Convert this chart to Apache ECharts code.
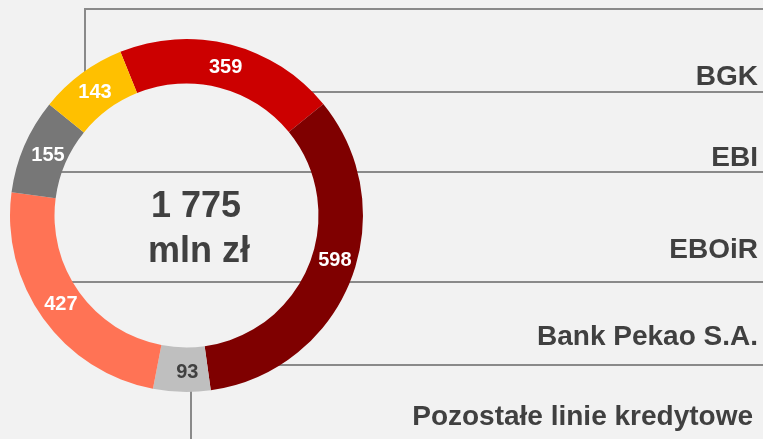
<!DOCTYPE html>
<html>
<head>
<meta charset="utf-8">
<script src="https://cdn.jsdelivr.net/npm/echarts@6/dist/echarts.min.js"></script>
<style>
  html, body { margin: 0; padding: 0; background: #f2f2f2; }
  #box { width: 763px; height: 439px; }
</style>
</head>
<body>
<div id="box"></div>
<script>
// dane
var names = ['BGK', 'Bank Pekao S.A.', 'Pozostałe linie kredytowe', 'EBOiR', 'EBI', 'PKO BP'];
var values = [359, 598, 93, 427, 155, 143];
var colors = ['#cc0000', '#7f0000', '#bfbfbf', '#ff7355', '#777777', '#ffc000'];
var labelColors = ['#ffffff', '#ffffff', '#404040', '#ffffff', '#ffffff', '#ffffff'];
var totalText = ['1 775', 'mln zł'];

var font = 'Liberation Sans, Arial, sans-serif';
var lineColor = '#8a8a8a';
// drobne przesunięcia etykiet jak w oryginale
var labelShift = [[0, 4], [2, -13], [5, 0], [2, -3], [6, 2], [2, 3]];

var pieData = [];
for (var i = 0; i < values.length; i++) {
  pieData.push({
    name: names[i],
    value: values[i],
    itemStyle: { color: colors[i] },
    label: { color: labelColors[i], offset: labelShift[i] }
  });
}

// linie odniesienia i podpisy po prawej
function hLine(y, x1) {
  return { type: 'line', z: 0, shape: { x1: x1, y1: y, x2: 763, y2: y }, style: { stroke: lineColor, lineWidth: 2 } };
}
function rightText(txt, y, x) {
  return { type: 'text', z: 10, x: x || 758, y: y,
    style: { text: txt, fill: '#404040', font: 'bold 28px ' + font, textAlign: 'right', textVerticalAlign: 'middle' } };
}

var graphics = [
  { type: 'polyline', z: 0, shape: { points: [[85, 90], [85, 9], [763, 9]] }, style: { stroke: lineColor, lineWidth: 2, fill: null } },
  hLine(92, 290),
  hLine(172, 40),
  hLine(282, 40),
  hLine(365, 260),
  { type: 'line', z: 0, shape: { x1: 191, y1: 370, x2: 191, y2: 439 }, style: { stroke: lineColor, lineWidth: 2 } },
  rightText(names[5], -9),
  rightText(names[0], 77),
  rightText(names[4], 158.5),
  rightText(names[3], 250.5),
  rightText(names[1], 337),
  rightText(names[2], 417, 753),
  { type: 'text', z: 10, x: 196, y: 207.5,
    style: { text: totalText[0], fill: '#404040', font: 'bold 36px ' + font, textAlign: 'center', textVerticalAlign: 'middle' } },
  { type: 'text', z: 10, x: 199, y: 252.5,
    style: { text: totalText[1], fill: '#404040', font: 'bold 36px ' + font, textAlign: 'center', textVerticalAlign: 'middle' } }
];

var option = {
  backgroundColor: '#f2f2f2',
  animation: false,
  graphic: graphics,
  series: [
    {
      type: 'pie',
      center: [186.5, 215.5],
      radius: [132, 176.5],
      startAngle: 112,
      clockwise: true,
      avoidLabelOverlap: false,
      itemStyle: { borderWidth: 0 },
      label: {
        show: true,
        position: 'inside',
        formatter: '{c}',
        fontSize: 20,
        fontWeight: 'bold',
        fontFamily: font
      },
      labelLine: { show: false },
      emphasis: { disabled: true },
      data: pieData
    }
  ]
};

var myChart = echarts.init(document.getElementById('box'));
myChart.setOption(option);
</script>
</body>
</html>
